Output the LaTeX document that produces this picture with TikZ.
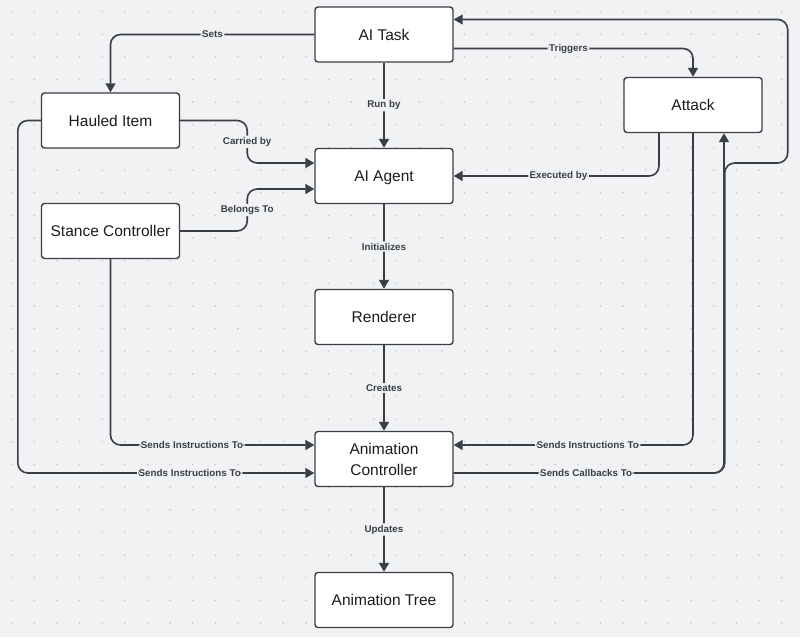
\documentclass[tikz,border=0pt]{standalone}
\usepackage{fontspec}
\setmainfont{Liberation Sans}
\usepackage{tikz}
\usetikzlibrary{arrows.meta}

\definecolor{canvas}{HTML}{F1F2F4}
\definecolor{griddot}{HTML}{C4C7CC}
\definecolor{wire}{HTML}{3A3F47}
\definecolor{ink}{HTML}{1C1C1E}

\begin{document}
\begin{tikzpicture}[
  x=1pt, y=-1pt,
  box/.style={draw=wire, fill=white, rounded corners=3pt, line width=1.4pt,
    minimum width=138pt, minimum height=55pt, inner sep=2pt, text=ink,
    font=\fontsize{15.5}{21}\selectfont, align=center},
  oneline/.style={text height=11pt, text depth=0pt},
  flow/.style={-{Triangle[length=9pt,width=10pt]}, draw=wire, line width=1.6pt,
    rounded corners=10pt},
  lbl/.style={fill=canvas, text=wire, inner sep=1.5pt,
    font=\fontsize{9.8}{11}\selectfont\bfseries}
 ]
\useasboundingbox (0,0) rectangle (800,637);
\fill[canvas] (0,0) rectangle (800,637);
\foreach \i in {0,...,35}
  \foreach \j in {0,...,28}
    \fill[griddot] (11.5+22.65*\i, 11.5+22.65*\j) circle (0.9pt);

% boxes
\node[box, oneline] (task) at (384,34.5) {AI Task};
\node[box, oneline] (attack) at (693,105) {Attack};
\node[box, oneline] (hauled) at (110.5,120.5) {Hauled Item};
\node[box, oneline] (agent) at (384,176) {AI Agent};
\node[box, oneline] (stance) at (110.5,231) {Stance Controller};
\node[box, oneline] (renderer) at (384,317) {Renderer};
\node[box] (ctrl) at (384,459) {Animation\\Controller};
\node[box, oneline] (tree) at (384,600) {Animation Tree};

% task links
\draw[flow] (task.west) -| (hauled.north) node[lbl, pos=0.25] {Sets};
\draw[flow] ([yshift=-14pt]task.east) -| (attack.north) node[lbl, pos=0.24] {Triggers};
\draw[flow] (task) -- (agent) node[lbl, midway] {Run by};
\draw[flow] ([xshift=-34pt]attack.south) |- (agent.east) node[lbl, pos=0.745] {Executed by};

% into the agent
\draw[flow] (hauled.east) -- ++(67,0) |- ([yshift=13pt]agent.west)
  node[lbl, pos=0.25] {Carried by};
\draw[flow] (stance.east) -- ++(67,0) |- ([yshift=-13pt]agent.west)
  node[lbl, pos=0.25] {Belongs To};

% main column
\draw[flow] (agent) -- (renderer) node[lbl, midway] {Initializes};
\draw[flow] (renderer) -- (ctrl) node[lbl, midway] {Creates};
\draw[flow] (ctrl) -- (tree) node[lbl, midway] {Updates};

% instructions to the controller
\draw[flow] (stance.south) |- ([yshift=14pt]ctrl.west) node[lbl, pos=0.70] {Sends Instructions To};
\draw[flow] (hauled.west) -- ++(-23,0) |- ([yshift=-14pt]ctrl.west)
  node[lbl, pos=0.79] {Sends Instructions To};
\draw[flow] (attack.south) |- ([yshift=14pt]ctrl.east) node[lbl, pos=0.72] {Sends Instructions To};

% callbacks
\draw[flow] ([yshift=-14pt]ctrl.east) -- ++(271,0) -- ++(0,-310) -- ++(63,0)
  |- ([yshift=15pt]task.east);
\draw[flow] ([yshift=-14pt]ctrl.east) -| ([xshift=31pt]attack.south)
  node[lbl, pos=0.245] {Sends Callbacks To};
\end{tikzpicture}
\end{document}
